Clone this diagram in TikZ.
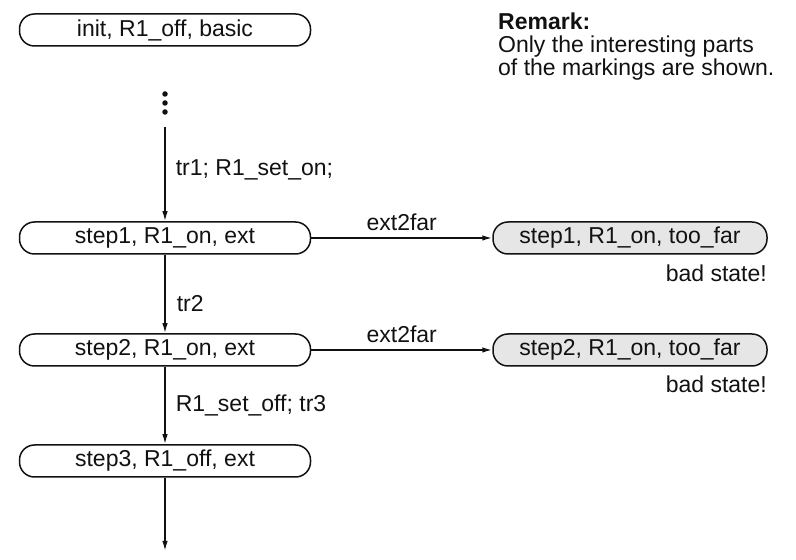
\documentclass[tikz,border=0pt]{standalone}
\usepackage{fontspec}
\setmainfont{Liberation Sans}
\usetikzlibrary{arrows.meta}
\definecolor{ink}{HTML}{111111}
\definecolor{badfill}{HTML}{E6E6E6}
\tikzset{
  every node/.style={font=\fontsize{23}{23}\selectfont, text=ink},
  state/.style={draw=ink, line width=1.5pt, rounded corners=15pt,
    minimum width=291pt, minimum height=32pt, inner sep=0pt},
  badstate/.style={state, fill=badfill, minimum width=274pt},
  flow/.style={draw=ink, line width=1.6pt, -{Latex[length=10pt,width=5.5pt]}},
  lbl/.style={inner sep=0pt, anchor=west},
  dot/.style={circle, fill=ink, inner sep=0pt, minimum size=5.5pt}
}
\begin{document}
\begin{tikzpicture}[x=1pt,y=1pt]
\useasboundingbox (0,0) rectangle (796,560);

% main chain of markings
\node[state] (init)  at (165,530) {init, R1\_off, basic};
\node[dot] (d1) at (165,466) {};
\node[dot] (d2) at (165,457) {};
\node[dot] (d3) at (165,448) {};
\coordinate (cont) at (165,433);
\node[state] (s1) at (165,322) {step1, R1\_on, ext};
\node[state] (s2) at (165,210) {step2, R1\_on, ext};
\node[state] (s3) at (165,99)  {step3, R1\_off, ext};
\coordinate (tail) at (165,9);

% bad markings
\node[badstate] (b1) at (630,322) {step1, R1\_on, too\_far};
\node[badstate] (b2) at (630,210) {step2, R1\_on, too\_far};
\node[anchor=east, inner sep=0pt] (bs1) at (767,287) {bad state!};
\node[anchor=east, inner sep=0pt] (bs2) at (767,176) {bad state!};

% transitions
\draw[flow] (cont) -- (s1.north) node[lbl, pos=0.45, xshift=10pt] (t1) {tr1; R1\_set\_on;};
\draw[flow] (s1.south) -- (s2.north) node[lbl, pos=0.62, xshift=11pt] (t2) {tr2};
\draw[flow] (s2.south) -- (s3.north) node[lbl, pos=0.5, xshift=10pt] (t3) {R1\_set\_off; tr3};
\draw[flow] (s3.south) -- (tail);
\draw[flow] (s1.east) -- (b1.west) node[midway, above=6pt, inner sep=0pt] (e1) {ext2far};
\draw[flow] (s2.east) -- (b2.west) node[midway, above=6pt, inner sep=0pt] (e2) {ext2far};

% remark
\node[anchor=north west, inner sep=0pt, align=left] (rem) at (498,547)
  {\textbf{Remark:}\\Only the interesting parts\\of the markings are shown.};
\end{tikzpicture}
\end{document}
